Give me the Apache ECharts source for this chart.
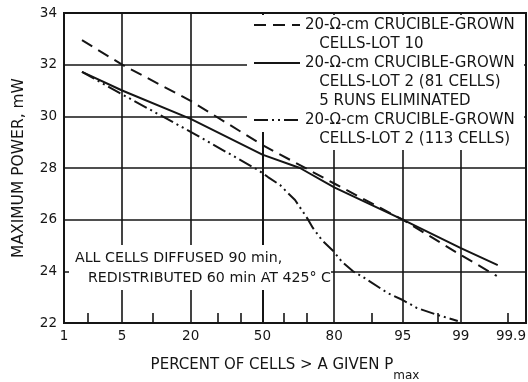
<!DOCTYPE html>
<html><head><meta charset="utf-8">
<script src="https://cdn.jsdelivr.net/npm/echarts@6/dist/echarts.min.js"></script>
<style>html,body{margin:0;padding:0;background:#fff}#c{width:528px;height:382px}</style>
</head><body><div id="c"></div>
<script>
// ---- data (percent of cells on a normal-probability axis, max power in mW) ----
const majorTicks = [1, 5, 20, 50, 80, 95, 99, 99.9];
const majorTickLabels = ['1', '5', '20', '50', '80', '95', '99', '99.9'];
const gridTicks = [5, 20, 50, 80, 95, 99];
const minorTicks = [2, 10, 30, 40, 60, 70, 90, 98, 99.8];

const lot10Pct = [1.72, 5, 20, 50, 80, 95, 99, 99.70];
const lot10Val = [32.95, 32.0, 30.6, 28.89, 27.4, 26.0, 24.63, 23.82];

const lot2aPct = [1.72, 5, 20, 50, 67, 80, 95, 99, 99.71];
const lot2aVal = [31.72, 31.0, 29.9, 28.52, 28.0, 27.25, 26.0, 24.9, 24.24];

const lot2bPct = [1.72, 5, 20, 48, 52.6, 58.2, 61.3, 64.9, 68.3, 70.4, 72.3, 75.8, 79.6, 82.5, 85.6, 88.1, 92.9, 95, 96.5, 98, 98.9];
const lot2bVal = [31.72, 30.85, 29.4, 27.92, 27.65, 27.34, 27.07, 26.76, 26.3, 26.0, 25.68, 25.2, 24.8, 24.36, 24.0, 23.78, 23.16, 22.89, 22.58, 22.31, 22.08];

const nameLot10 = '20-Ω-cm CRUCIBLE-GROWN\n   CELLS-LOT 10';
const nameLot2a = '20-Ω-cm CRUCIBLE-GROWN\n   CELLS-LOT 2 (81 CELLS)\n   5 RUNS ELIMINATED';
const nameLot2b = '20-Ω-cm CRUCIBLE-GROWN\n   CELLS-LOT 2 (113 CELLS)';
const noteLine1 = 'ALL CELLS DIFFUSED 90 min,';
const noteLine2 = 'REDISTRIBUTED 60 min AT 425° C';

// ---- normal probability transform (inverse normal CDF, Acklam) ----
function probit(p) {
  const a = [-3.969683028665376e+01, 2.209460984245205e+02, -2.759285104469687e+02, 1.383577518672690e+02, -3.066479806614716e+01, 2.506628277459239e+00];
  const b = [-5.447609879822406e+01, 1.615858368580409e+02, -1.556989798598866e+02, 6.680131188771972e+01, -1.328068155288572e+01];
  const c = [-7.784894002430293e-03, -3.223964580411365e-01, -2.400758277161838e+00, -2.549732539343734e+00, 4.374664141464968e+00, 2.938163982698783e+00];
  const d = [7.784695709041462e-03, 3.224671290700398e-01, 2.445134137142996e+00, 3.754408661907416e+00];
  const pl = 0.02425, ph = 1 - pl;
  let q, r;
  if (p < pl) { q = Math.sqrt(-2 * Math.log(p)); return (((((c[0]*q+c[1])*q+c[2])*q+c[3])*q+c[4])*q+c[5]) / ((((d[0]*q+d[1])*q+d[2])*q+d[3])*q+1); }
  if (p <= ph) { q = p - 0.5; r = q*q; return (((((a[0]*r+a[1])*r+a[2])*r+a[3])*r+a[4])*r+a[5])*q / (((((b[0]*r+b[1])*r+b[2])*r+b[3])*r+b[4])*r+1); }
  q = Math.sqrt(-2 * Math.log(1 - p));
  return -(((((c[0]*q+c[1])*q+c[2])*q+c[3])*q+c[4])*q+c[5]) / ((((d[0]*q+d[1])*q+d[2])*q+d[3])*q+1);
}
const zOf = pct => probit(pct / 100);
const pairs = (pcts, vals) => pcts.map((p, i) => [zOf(p), vals[i]]);

const majorZ = majorTicks.map(zOf);
function labelFor(v) {
  let best = 0;
  for (let i = 1; i < majorZ.length; i++) if (Math.abs(majorZ[i] - v) < Math.abs(majorZ[best] - v)) best = i;
  return majorTickLabels[best];
}
// put the first text line level with the legend sample line
function legendText(name) {
  const n = name.split('\n').length;
  return '\n'.repeat(n - 1) + name;
}

const INK = '#151515';
const FONT = 'DejaVu Sans';

const chart = echarts.init(document.getElementById('c'), null, { renderer: 'canvas' });
const legendBase = {
  orient: 'vertical', left: 253, padding: 0, itemWidth: 46, itemHeight: 14, itemGap: 0,
  selectedMode: false, formatter: legendText,
  itemStyle: { opacity: 0, borderWidth: 0 },
  textStyle: { fontSize: 15, fontFamily: FONT, color: INK, lineHeight: 19 }
};
chart.setOption({
  animation: false,
  backgroundColor: '#fff',
  grid: { left: 64, right: 2, top: 13, bottom: 59, show: true, borderColor: INK, borderWidth: 2, backgroundColor: 'transparent', outerBoundsMode: 'none' },
  xAxis: [{
    type: 'value', min: zOf(1), max: zOf(99.9), position: 'bottom',
    axisLine: { show: true, onZero: false, lineStyle: { color: INK, width: 2 } },
    axisTick: { show: false, customValues: gridTicks.map(zOf) },
    splitLine: { show: true, lineStyle: { color: INK, width: 1.6 } },
    axisLabel: { customValues: majorZ, formatter: labelFor, color: INK, fontSize: 13.5, fontFamily: FONT, margin: 6,
      hideOverlap: false, showMinLabel: true, showMaxLabel: true, alignMaxLabel: 'right' },
    name: '{a|PERCENT OF CELLS > A GIVEN P}{b|max}', nameLocation: 'middle', nameGap: 24,
    nameTextStyle: { rich: {
      a: { fontSize: 15, fontFamily: FONT, color: INK, lineHeight: 18 },
      b: { fontSize: 12, fontFamily: FONT, color: INK, lineHeight: 14, padding: [22, 20, 0, 0] }
    } }
  }, {
    type: 'value', min: zOf(1), max: zOf(99.9), position: 'bottom', gridIndex: 0,
    axisLine: { show: false, onZero: false },
    axisTick: { show: true, inside: true, length: 10, customValues: minorTicks.map(zOf), lineStyle: { color: INK, width: 1.6 } },
    axisLabel: { show: false }, splitLine: { show: false }
  }],
  yAxis: {
    type: 'value', min: 22, max: 34, interval: 2,
    axisLine: { show: true, lineStyle: { color: INK, width: 2 } },
    axisTick: { show: false },
    splitLine: { show: true, lineStyle: { color: INK, width: 1.6 } },
    axisLabel: { color: INK, fontSize: 13.5, fontFamily: FONT, margin: 7 },
    name: 'MAXIMUM POWER, mW', nameLocation: 'middle', nameGap: 37,
    nameTextStyle: { fontSize: 15.5, fontFamily: FONT, color: INK }
  },
  legend: [
    Object.assign({}, legendBase, { data: [nameLot10], top: -3.5 }),
    Object.assign({}, legendBase, { data: [nameLot2a], top: 15.5 }),
    Object.assign({}, legendBase, { data: [nameLot2b], top: 91.5 })
  ],
  graphic: [
    { type: 'rect', z: 1, silent: true, shape: { x: 247, y: 15, width: 53, height: 117 }, style: { fill: '#fff' } },
    { type: 'rect', z: 1, silent: true, shape: { x: 300, y: 15, width: 224, height: 135 }, style: { fill: '#fff' } },
    { type: 'rect', z: 1, silent: true, shape: { x: 69, y: 245, width: 262, height: 45 }, style: { fill: '#fff' } },
    { type: 'text', z: 5, x: 75, y: 258, style: { text: noteLine1, fontSize: 14.2, fontFamily: FONT, fill: INK, verticalAlign: 'middle' } },
    { type: 'text', z: 5, x: 88, y: 278, style: { text: noteLine2, fontSize: 14.2, fontFamily: FONT, fill: INK, verticalAlign: 'middle' } }
  ],
  series: [
    { name: nameLot10, type: 'line', xAxisIndex: 0, symbol: 'none', data: pairs(lot10Pct, lot10Val),
      lineStyle: { color: INK, width: 2, type: [12, 7] }, itemStyle: { color: INK } },
    { name: nameLot2a, type: 'line', xAxisIndex: 0, symbol: 'none', data: pairs(lot2aPct, lot2aVal),
      lineStyle: { color: INK, width: 2, type: 'solid' }, itemStyle: { color: INK } },
    { name: nameLot2b, type: 'line', xAxisIndex: 0, symbol: 'none', data: pairs(lot2bPct, lot2bVal),
      lineStyle: { color: INK, width: 2, type: [14, 4, 2, 4, 2, 4] }, itemStyle: { color: INK } }
  ]
});
</script>
</body></html>
